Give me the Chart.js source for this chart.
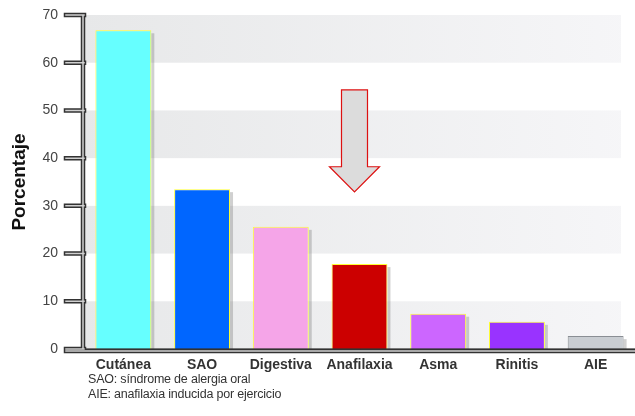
<!DOCTYPE html>
<html>
<head>
<meta charset="utf-8">
<script src="https://cdn.jsdelivr.net/npm/chart.js@4"></script>
<style>
  html, body { margin: 0; padding: 0; background: #fff; }
  #wrap { position: relative; width: 635px; height: 416px; }
  .note { position: absolute; left: 88px; font: 12.5px "Liberation Sans", Arial, sans-serif; color: #333; letter-spacing: -0.2px; }
</style>
</head>
<body>
<div id="wrap">
  <canvas id="chart" width="635" height="416"></canvas>
  <div class="note" style="top:372px">SAO: síndrome de alergia oral</div>
  <div class="note" style="top:387px">AIE: anafilaxia inducida por ejercicio</div>
</div>
<script>
const categories = ['Cutánea', 'SAO', 'Digestiva', 'Anafilaxia', 'Asma', 'Rinitis', 'AIE'];
const values = [66.8, 33.5, 25.6, 17.8, 7.4, 5.7, 2.7];
const barColors = ['#66ffff', '#0066ff', '#f5a5e8', '#cc0000', '#cc66ff', '#9933ff', '#c9cdd2'];
const borderColors = ['#ffff33', '#ffff33', '#ffff33', '#ffff33', '#ffff33', '#ffff33', '#8a8e94'];
const yTicks = [0, 10, 20, 30, 40, 50, 60, 70];
// arrow over Anafilaxia: top, start of head, tip (in % units)
const arrowIndex = 3;
const arrowTop = 54.3, arrowNeck = 38.2, arrowTip = 32.9;

// gray bands behind the bars
const bandsPlugin = {
  id: 'bands',
  beforeDatasetsDraw(chart) {
    const { ctx, chartArea: a, scales: { y } } = chart;
    ctx.save();
    for (let v = 0; v < 70; v += 20) {
      const top = y.getPixelForValue(v + 10), bot = y.getPixelForValue(v);
      const g = ctx.createLinearGradient(a.left, 0, a.right, 0);
      g.addColorStop(0, '#e7e8e9');
      g.addColorStop(1, '#f6f6f8');
      ctx.fillStyle = g;
      ctx.fillRect(a.left, top, a.right - 14 - a.left, bot - top);
    }
    // light shadows to the right of bars
    const meta = chart.getDatasetMeta(0);
    ctx.fillStyle = 'rgba(120,120,120,0.35)';
    meta.data.forEach(b => {
      const r = b.x + b.width / 2;
      ctx.fillRect(r, b.y + 3, 3, b.base - b.y - 3);
    });
    ctx.restore();
  }
};

// double-line axes and the arrow
const decorPlugin = {
  id: 'decor',
  afterDraw(chart) {
    const { ctx, chartArea: a, scales: { x, y } } = chart;
    ctx.save();
    const ax = a.left - 1;
    const y0 = y.getPixelForValue(0);
    const stroke = (w, c) => {
      ctx.lineWidth = w; ctx.strokeStyle = c;
      ctx.beginPath();
      ctx.moveTo(ax, y.getPixelForValue(70));
      ctx.lineTo(ax, y0);
      yTicks.forEach(t => {
        const py = y.getPixelForValue(t);
        ctx.moveTo(ax - 17, py);
        ctx.lineTo(ax + 1, py);
      });
      ctx.moveTo(ax - 17, y0 + 2);
      ctx.lineTo(a.right, y0 + 2);
      ctx.stroke();
    };
    ctx.lineCap = 'square';
    stroke(4.5, '#333');
    stroke(1.5, '#d0d0d0');
    ctx.lineWidth = 1; ctx.strokeStyle = '#333';
    ctx.beginPath(); ctx.moveTo(a.left + 2, y0); ctx.lineTo(a.right, y0); ctx.stroke();

    // arrow
    const cx = x.getPixelForValue(arrowIndex) - 5;
    const t = y.getPixelForValue(arrowTop), n = y.getPixelForValue(arrowNeck), tip = y.getPixelForValue(arrowTip);
    ctx.beginPath();
    ctx.moveTo(cx - 13, t);
    ctx.lineTo(cx + 13, t);
    ctx.lineTo(cx + 13, n);
    ctx.lineTo(cx + 25, n);
    ctx.lineTo(cx, tip);
    ctx.lineTo(cx - 25, n);
    ctx.lineTo(cx - 13, n);
    ctx.closePath();
    ctx.fillStyle = '#dcdcdc';
    ctx.fill();
    ctx.strokeStyle = '#dd1111';
    ctx.lineWidth = 1.2;
    ctx.stroke();
    ctx.restore();
  }
};

new Chart(document.getElementById('chart').getContext('2d'), {
  type: 'bar',
  data: {
    labels: categories,
    datasets: [{
      data: values,
      backgroundColor: barColors,
      borderColor: borderColors,
      borderWidth: 1,
      barPercentage: 0.71,
      categoryPercentage: 1
    }]
  },
  options: {
    responsive: false,
    animation: false,
    layout: { padding: { top: 15, right: 0, bottom: 0, left: 0 } },
    plugins: { legend: { display: false }, tooltip: { enabled: false } },
    scales: {
      x: {
        grid: { display: false },
        border: { display: false },
        ticks: { color: '#333', font: { family: 'Liberation Sans', size: 14, weight: 'bold' }, padding: 0 },
        afterFit(s) { s.height = 67; s.paddingLeft = 0; s.paddingRight = 0; }
      },
      y: {
        min: 0, max: 70,
        afterBuildTicks(s) { s.ticks = yTicks.map(v => ({ value: v })); },
        grid: { display: false },
        border: { display: false },
        ticks: { color: '#444', font: { family: 'Liberation Sans', size: 14 }, padding: 18 },
        title: { display: true, text: 'Porcentaje', color: '#111', font: { family: 'Liberation Sans', size: 19, weight: 'bold' }, padding: { top: 8, bottom: 2 } },
        afterFit(s) { s.width = 84; s.paddingTop = 0; s.paddingBottom = 0; }
      }
    }
  },
  plugins: [bandsPlugin, decorPlugin]
});
</script>
</body>
</html>
